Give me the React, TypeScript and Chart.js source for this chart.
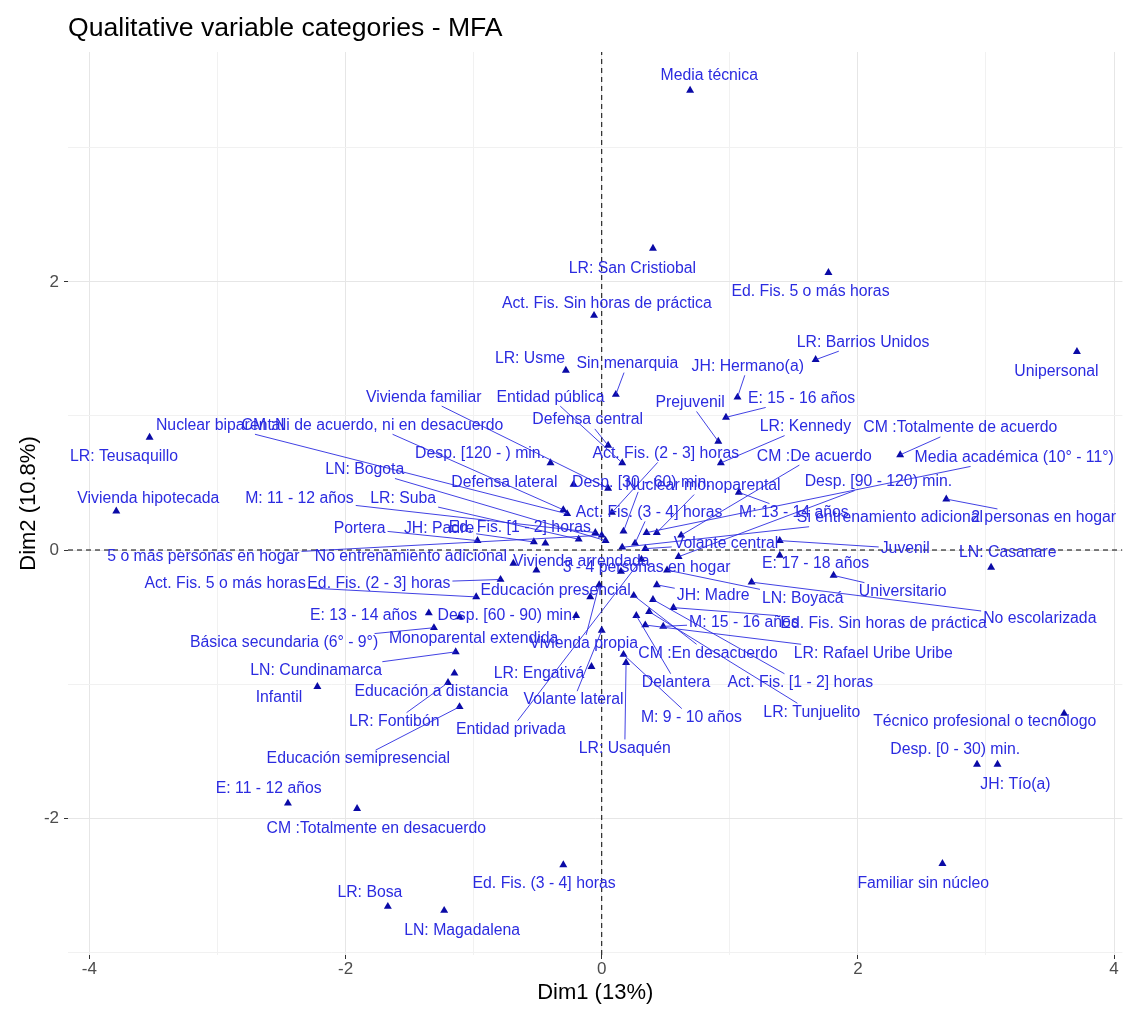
import React, { useEffect, useRef } from 'react';
import { Chart, registerables } from 'chart.js';

Chart.register(...registerables);

const FONT = '"Liberation Sans", Arial, Helvetica, sans-serif';

// MFA qualitative variable categories
const categories = [
  'Media técnica', 'LR: San Cristiobal', 'Ed. Fis. 5 o más horas', 'Act. Fis. Sin horas de práctica', 'LR: Barrios Unidos', 'Unipersonal',
  'LR: Usme', 'Sin menarquia', 'JH: Hermano(a)', 'E: 15 - 16 años', 'Prejuvenil', 'Vivienda familiar',
  'Entidad pública', 'Defensa central', 'Nuclear biparental', 'CM :Ni de acuerdo, ni en desacuerdo', 'LR: Teusaquillo', 'Vivienda hipotecada',
  'LN: Bogota', 'M: 11 - 12 años', 'LR: Suba', 'Desp. [120 - ) min.', 'Act. Fis. (2 - 3] horas', 'LR: Kennedy',
  'CM :Totalmente de acuerdo', 'CM :De acuerdo', 'Media académica (10° - 11°)', 'Defensa lateral', 'Desp. [30 - 60) min.', 'Nuclear monoparental',
  'Desp. [90 - 120) min.', 'Act. Fis. (3 - 4] horas', 'M: 13 - 14 años', 'Si entrenamiento adicional', '2 personas en hogar', 'Portera',
  'JH: Padre', 'Ed. Fis. [1 - 2] horas', 'Volante central', 'Juvenil', 'LN: Casanare', '5 o más personas en hogar',
  'No entrenamiento adicional', 'Vivienda arrendada', '3 - 4 personas en hogar', 'E: 17 - 18 años', 'Universitario', 'LN: Boyacá',
  'No escolarizada', 'Act. Fis. 5 o más horas', 'Ed. Fis. (2 - 3] horas', 'Educación presencial', 'JH: Madre', 'E: 13 - 14 años',
  'Desp. [60 - 90) min.', 'M: 15 - 16 años', 'Ed. Fis. Sin horas de práctica', 'Básica secundaria (6° - 9°)', 'Monoparental extendida', 'Vivienda propia',
  'CM :En desacuerdo', 'LR: Rafael Uribe Uribe', 'LN: Cundinamarca', 'LR: Engativá', 'Delantera', 'Act. Fis. [1 - 2] horas',
  'Infantil', 'Educación a distancia', 'Volante lateral', 'M: 9 - 10 años', 'LR: Fontibón', 'LR: Tunjuelito',
  'Técnico profesional o tecnologo', 'Entidad privada', 'LR: Usaquén', 'Desp. [0 - 30) min.', 'Educación semipresencial', 'JH: Tío(a)',
  'E: 11 - 12 años', 'CM :Totalmente en desacuerdo', 'Familiar sin núcleo', 'Ed. Fis. (3 - 4] horas', 'LR: Bosa', 'LN: Magadalena',
];

// Coordinates on the first dimension
const dim1 = [
  0.69, 0.40, 1.77, -0.06, 1.67, 3.71,
  -0.28, 0.11, 1.06, 0.97, 0.91, 0.05,
  0.16, 0.05, -0.27, -0.30, -3.53, -3.79,
  0.03, -0.05, -0.18, -0.40, 0.08, 0.93,
  2.33, 0.62, 0.35, -0.22, 0.17, 0.43,
  0.60, 0.26, 1.07, 0.16, 2.69, -0.97,
  -0.53, -0.44, 0.34, 1.39, 3.04, 0.00,
  -0.69, -0.51, 0.15, 1.39, 1.81, 0.51,
  1.17, -0.98, -0.79, -0.09, 0.43, -1.35,
  -0.20, 0.48, 0.56, -1.31, -1.11, -0.02,
  0.25, 0.34, -1.14, -0.08, 0.27, 0.40,
  -2.22, -1.15, 0.00, 0.17, -1.20, 0.37,
  3.61, 0.31, 0.19, 2.93, -1.11, 3.09,
  -2.45, -1.91, 2.66, -0.30, -1.67, -1.23,
];

// Coordinates on the second dimension
const dim2 = [
  3.43, 2.25, 2.07, 1.75, 1.42, 1.48,
  1.34, 1.16, 1.14, 0.99, 0.81, 0.46,
  0.65, 0.78, 0.27, 0.30, 0.84, 0.29,
  0.07, 0.13, 0.08, 0.65, 0.28, 0.65,
  0.71, 0.11, 0.13, 0.49, 0.14, 0.13,
  -0.05, 0.05, 0.43, 0.02, 0.38, 0.07,
  0.06, 0.05, 0.01, 0.07, -0.13, 0.11,
  -0.10, -0.15, -0.16, -0.04, -0.19, -0.15,
  -0.24, -0.35, -0.22, -0.35, -0.26, -0.47,
  -0.49, -0.57, -0.43, -0.58, -0.50, -0.26,
  -0.34, -0.56, -0.76, -0.87, -0.49, -0.37,
  -1.02, -0.92, -0.60, -0.78, -0.99, -0.46,
  -1.22, -0.07, -0.84, -1.60, -1.17, -1.60,
  -1.89, -1.93, -2.34, -2.35, -2.66, -2.69,
];

// Repelled label placement (centre of each text, in axis units)
const labelDim1 = [
  0.84, 0.24, 1.63, 0.04, 2.04, 3.55,
  -0.56, 0.20, 1.14, 1.56, 0.69, -1.39,
  -0.40, -0.11, -2.98, -1.79, -3.73, -3.54,
  -1.85, -2.36, -1.55, -0.95, 0.50, 1.59,
  2.80, 1.66, 3.22, -0.76, 0.31, 0.79,
  2.16, 0.37, 1.50, 2.25, 3.45, -1.89,
  -1.27, -0.64, 0.97, 2.37, 3.17, -3.11,
  -1.49, -0.16, 0.35, 1.67, 2.35, 1.57,
  3.42, -2.94, -1.74, -0.36, 0.87, -1.86,
  -0.74, 1.11, 2.20, -2.48, -1.00, -0.14,
  0.83, 2.12, -2.23, -0.49, 0.58, 1.55,
  -2.52, -1.33, -0.22, 0.70, -1.62, 1.64,
  2.99, -0.71, 0.18, 2.76, -1.90, 3.23,
  -2.60, -1.76, 2.51, -0.45, -1.81, -1.09,
];

const labelDim2 = [
  3.54, 2.10, 1.93, 1.84, 1.55, 1.33,
  1.43, 1.39, 1.37, 1.13, 1.10, 1.14,
  1.14, 0.97, 0.93, 0.93, 0.70, 0.38,
  0.60, 0.38, 0.38, 0.72, 0.72, 0.92,
  0.91, 0.70, 0.69, 0.50, 0.50, 0.48,
  0.51, 0.28, 0.28, 0.24, 0.24, 0.16,
  0.16, 0.17, 0.05, 0.01, -0.02, -0.05,
  -0.05, -0.09, -0.13, -0.10, -0.31, -0.36,
  -0.51, -0.25, -0.25, -0.30, -0.34, -0.49,
  -0.49, -0.54, -0.55, -0.69, -0.66, -0.70,
  -0.77, -0.77, -0.90, -0.92, -0.99, -0.99,
  -1.10, -1.06, -1.12, -1.25, -1.28, -1.21,
  -1.28, -1.34, -1.48, -1.49, -1.56, -1.75,
  -1.78, -2.08, -2.49, -2.49, -2.56, -2.84,
];

const xTitle = 'Dim1 (13%)';
const yTitle = 'Dim2 (10.8%)';
const chartTitle = 'Qualitative variable categories - MFA';

const X_MIN = -4.167;
const X_MAX = 4.065;
const Y_MIN = -3.022;
const Y_MAX = 3.716;

const LABEL_SIZE = 15.8;
const LABEL_COLOR = '#2b2be0';
const POINT_COLOR = '#0a0aa6';
// segments shorter than this (px) are not drawn
const MIN_SEGMENT = 18;

// Text labels with leader segments back to their point
const repelLabels = {
  id: 'repelLabels',
  afterDatasetsDraw(chart: any) {
    const { ctx, chartArea } = chart;
    const xs = chart.scales.x;
    const ys = chart.scales.y;
    ctx.save();
    ctx.beginPath();
    ctx.rect(chartArea.left, chartArea.top, chartArea.right - chartArea.left, chartArea.bottom - chartArea.top);
    ctx.clip();
    ctx.font = `${LABEL_SIZE}px ${FONT}`;
    ctx.strokeStyle = LABEL_COLOR;
    ctx.lineWidth = 0.9;
    categories.forEach((name, i) => {
      const px = xs.getPixelForValue(dim1[i]);
      const py = ys.getPixelForValue(dim2[i]);
      const lx = xs.getPixelForValue(labelDim1[i]);
      const ly = ys.getPixelForValue(labelDim2[i]);
      const hw = ctx.measureText(name).width / 2 + 2;
      const hh = LABEL_SIZE * 0.5 + 1;
      const dx = px - lx;
      const dy = py - ly;
      if (Math.abs(dx) <= hw && Math.abs(dy) <= hh) return;
      const t = Math.min(dx !== 0 ? hw / Math.abs(dx) : Infinity, dy !== 0 ? hh / Math.abs(dy) : Infinity);
      const sx = lx + dx * t;
      const sy = ly + dy * t;
      if (Math.hypot(px - sx, py - sy) < MIN_SEGMENT) return;
      ctx.beginPath();
      ctx.moveTo(sx, sy);
      ctx.lineTo(px, py);
      ctx.stroke();
    });
    ctx.fillStyle = LABEL_COLOR;
    ctx.textAlign = 'center';
    ctx.textBaseline = 'middle';
    categories.forEach((name, i) => {
      ctx.fillText(name, xs.getPixelForValue(labelDim1[i]), ys.getPixelForValue(labelDim2[i]));
    });
    ctx.restore();
  },
};

const plotTitle = {
  id: 'plotTitle',
  afterDraw(chart: any) {
    const { ctx, chartArea } = chart;
    ctx.save();
    ctx.font = `26.6px ${FONT}`;
    ctx.fillStyle = '#000';
    ctx.textAlign = 'left';
    ctx.textBaseline = 'alphabetic';
    ctx.fillText(chartTitle, chartArea.left, 36);
    ctx.restore();
  },
};

const isMajor = (v: number) => Math.abs(v % 2) < 1e-9;

export default function App() {
  const canvasRef = useRef<HTMLCanvasElement>(null);

  useEffect(() => {
    document.body.style.margin = '0';
    const canvas = canvasRef.current;
    if (!canvas) return;

    const axisCommon = (title: string) => ({
      type: 'linear' as const,
      border: { display: false },
      grid: {
        color: (c: any) => (c.tick && isMajor(c.tick.value) ? '#e6e6e6' : '#f1f1f1'),
        lineWidth: 1,
        tickLength: 4,
        tickColor: (c: any) => (c.tick && isMajor(c.tick.value) ? '#333333' : 'rgba(0,0,0,0)'),
        drawTicks: true,
      },
      ticks: {
        stepSize: 1,
        includeBounds: false,
        autoSkip: false,
        maxRotation: 0,
        color: '#4d4d4d',
        font: { family: FONT, size: 17 },
        callback: (v: any) => (isMajor(Number(v)) ? String(Math.round(Number(v))) : ''),
      },
      title: {
        display: true,
        text: title,
        color: '#000',
        font: { family: FONT, size: 22 },
      },
    });

    const xAxis: any = axisCommon(xTitle);
    xAxis.min = X_MIN;
    xAxis.max = X_MAX;
    xAxis.ticks.padding = 0;
    xAxis.title.padding = { top: 0, bottom: 7 };
    xAxis.afterFit = (s: any) => { s.height = 58; };

    const yAxis: any = axisCommon(yTitle);
    yAxis.min = Y_MIN;
    yAxis.max = Y_MAX;
    yAxis.ticks.padding = 5;
    yAxis.title.padding = { top: 16, bottom: 0 };
    yAxis.afterFit = (s: any) => { s.width = 68; };

    const chart = new Chart(canvas, {
      type: 'scatter',
      data: {
        datasets: [
          {
            label: 'categories',
            data: categories.map((_, i) => ({ x: dim1[i], y: dim2[i] })),
            pointStyle: 'triangle',
            pointRadius: 4.6,
            pointHoverRadius: 4.6,
            backgroundColor: POINT_COLOR,
            borderColor: POINT_COLOR,
            borderWidth: 0,
            order: 0,
          },
          {
            type: 'line',
            label: 'h0',
            data: [{ x: X_MIN, y: 0 }, { x: X_MAX, y: 0 }],
            borderColor: '#000',
            borderWidth: 1,
            borderDash: [5, 4],
            pointRadius: 0,
            order: 1,
          } as any,
          {
            type: 'line',
            label: 'v0',
            data: [{ x: 0, y: Y_MIN }, { x: 0, y: Y_MAX }],
            borderColor: '#000',
            borderWidth: 1,
            borderDash: [5, 4],
            pointRadius: 0,
            order: 1,
          } as any,
        ],
      },
      options: {
        responsive: false,
        animation: false,
        devicePixelRatio: 1,
        layout: { padding: { top: 52, right: 2, left: 0, bottom: 0 } },
        plugins: {
          legend: { display: false },
          tooltip: { enabled: false },
        },
        scales: { x: xAxis, y: yAxis },
      },
      plugins: [repelLabels, plotTitle],
    });

    return () => chart.destroy();
  }, []);

  return (
    <div style={{ position: 'absolute', left: 0, top: 0, width: 1127, height: 1013, background: '#fff' }}>
      <canvas ref={canvasRef} width={1127} height={1013} style={{ display: 'block', width: 1127, height: 1013 }} />
    </div>
  );
}
